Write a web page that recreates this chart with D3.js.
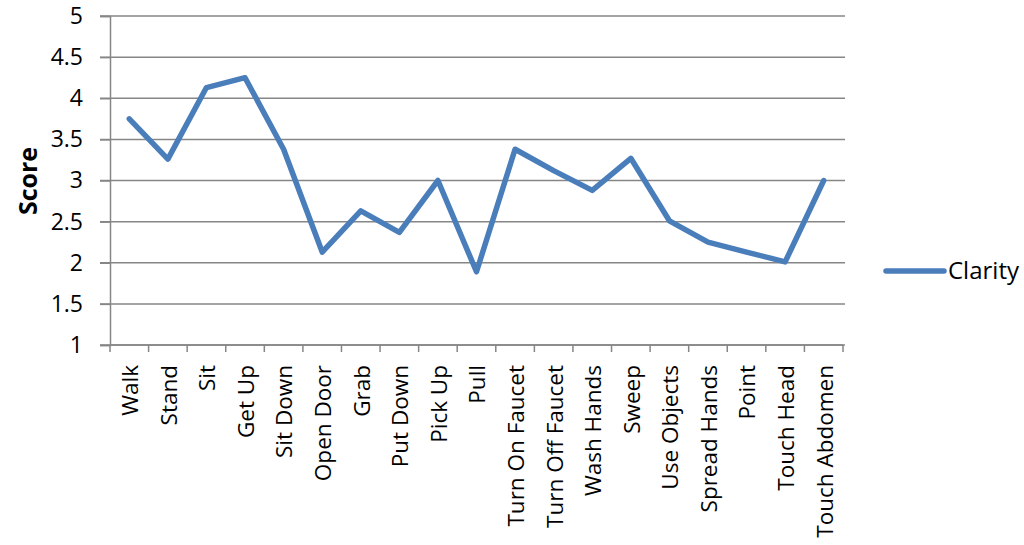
<!DOCTYPE html>
<html><head><meta charset="utf-8">
<script src="https://cdn.jsdelivr.net/npm/d3@7"></script>
<style>body{margin:0;background:#fff}svg{display:block}text{font-family:"Open Sans",sans-serif;fill:#000}</style>
</head><body>
<script>
const categories = ["Walk","Stand","Sit","Get Up","Sit Down","Open Door","Grab","Put Down","Pick Up","Pull","Turn On Faucet","Turn Off Faucet","Wash Hands","Sweep","Use Objects","Spread Hands","Point","Touch Head","Touch Abdomen"];
const clarity = [3.75,3.26,4.13,4.25,3.38,2.13,2.63,2.37,3.0,1.89,3.38,3.12,2.88,3.27,2.51,2.25,2.13,2.01,3.0];
const yTicks = [1,1.5,2,2.5,3,3.5,4,4.5,5];
const seriesName = "Clarity";
const axisTitle = "Score";

const W = 1024, H = 545;
const m = {left:110, right:843, top:16, bottom:345};
const svg = d3.select("body").append("svg").attr("width",W).attr("height",H);
const x = d3.scaleBand().domain(categories).range([m.left, m.right]);
const y = d3.scaleLinear().domain([1,5]).range([m.bottom, m.top]);
const gridColor = "#868686";

// gridlines
svg.append("g").selectAll("line").data(yTicks).join("line")
  .attr("x1", m.left-10).attr("x2", m.right+2)
  .attr("y1", d=>y(d)).attr("y2", d=>y(d))
  .attr("stroke", gridColor).attr("stroke-width", 1.5);

// y axis
const yAxis = svg.append("g").attr("transform",`translate(${m.left},0)`)
  .call(d3.axisLeft(y).tickValues(yTicks).tickSize(10).tickPadding(17).tickFormat(d=>String(d)));
yAxis.select(".domain").attr("stroke", gridColor).attr("stroke-width",1.5);
yAxis.selectAll(".tick line").attr("stroke", gridColor).attr("stroke-width",1.5);
yAxis.selectAll("text").attr("font-size", 23).attr("font-family","Open Sans");

// x axis
const xAxis = svg.append("g").attr("transform",`translate(0,${m.bottom})`);
xAxis.append("line").attr("x1", m.left).attr("x2", m.right).attr("stroke", gridColor).attr("stroke-width",1.5);
const bounds = categories.map(c=>x(c)).concat([x(categories[categories.length-1])+x.bandwidth()]);
xAxis.selectAll("line.t").data(bounds).join("line").attr("class","t")
  .attr("x1",d=>d).attr("x2",d=>d).attr("y1",0).attr("y2",7)
  .attr("stroke", gridColor).attr("stroke-width",1.5);
xAxis.selectAll("text").data(categories).join("text")
  .attr("transform", d=>`translate(${x(d)+x.bandwidth()/2+1},${20}) rotate(-90)`)
  .attr("text-anchor","end").attr("dy","0.35em").attr("font-size",22.5).text(d=>d);

// axis title
svg.append("text").attr("transform","translate(28,181) rotate(-90)")
  .attr("text-anchor","middle").attr("dy","0.35em").attr("font-weight","bold").attr("font-size",25).text(axisTitle);

// line
const color = "#4a7ebb";
svg.append("path").datum(clarity)
  .attr("d", d3.line().x((d,i)=>x(categories[i])+x.bandwidth()/2).y(d=>y(d)))
  .attr("fill","none").attr("stroke",color).attr("stroke-width",5.5).attr("stroke-linejoin","round").attr("stroke-linecap","round");

// legend
const lg = svg.append("g").attr("transform","translate(0,271)");
lg.append("line").attr("x1",886).attr("x2",944).attr("stroke",color).attr("stroke-width",5.5).attr("stroke-linecap","round");
lg.append("text").attr("x",948).attr("dy","0.35em").attr("font-size",24).text(seriesName);
</script>
</body></html>
